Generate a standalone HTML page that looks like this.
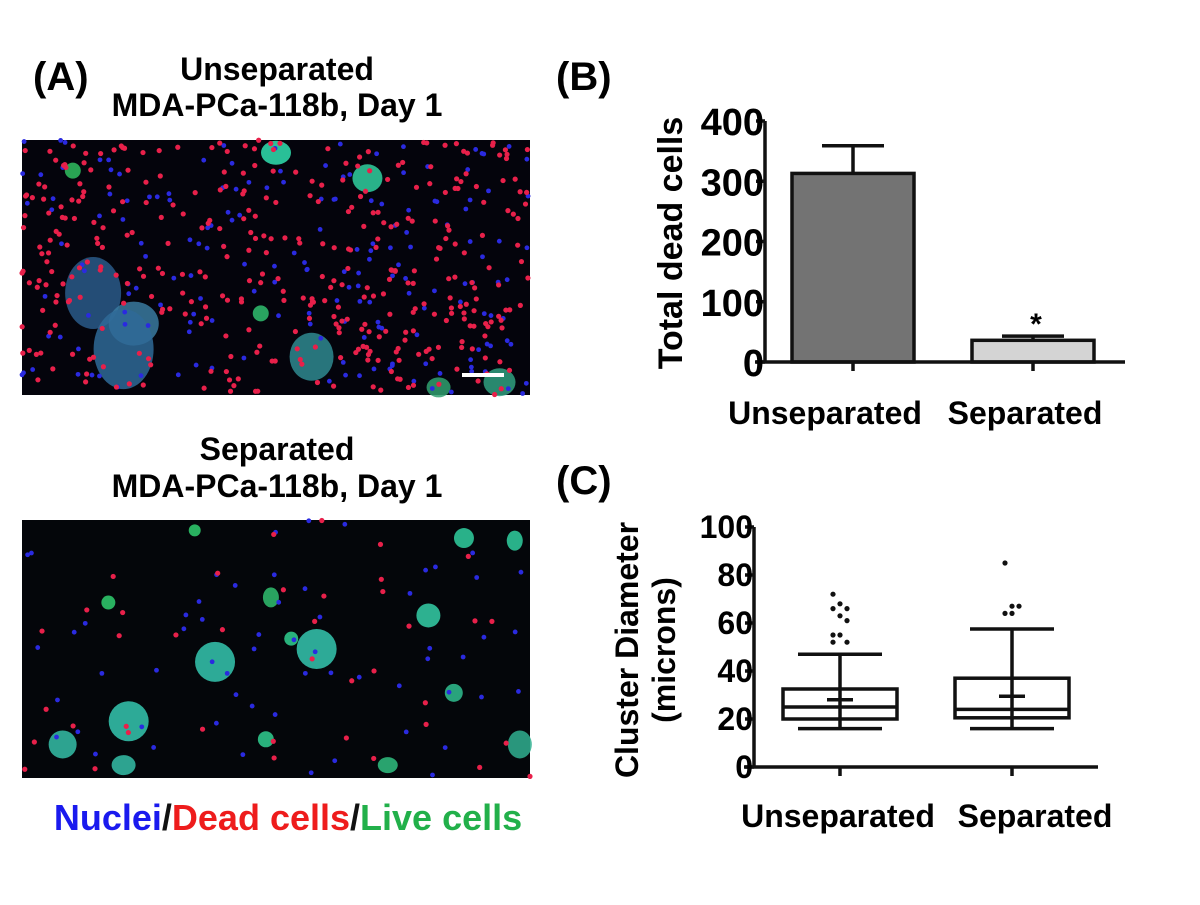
<!DOCTYPE html>
<html><head><meta charset="utf-8"><style>
body{margin:0;background:#fff;width:1200px;height:900px;overflow:hidden;font-family:"Liberation Sans",Arial,sans-serif}
svg text{font-family:"Liberation Sans",Arial,sans-serif;font-weight:bold}
</style></head><body>
<svg id="fig" width="1200" height="900" viewBox="0 0 1200 900">
<text x="33" y="90" font-size="40">(A)</text>
<text x="277" y="80" font-size="32" text-anchor="middle">Unseparated</text>
<text x="277" y="116" font-size="32" text-anchor="middle">MDA-PCa-118b, Day 1</text>
<g id="img1"><rect x="22" y="140" width="508" height="255" fill="#04040c"/></g>
<text x="277" y="460" font-size="32" text-anchor="middle">Separated</text>
<text x="277" y="497" font-size="32" text-anchor="middle">MDA-PCa-118b, Day 1</text>
<g id="img2"><rect x="22" y="520" width="508" height="258" fill="#04060a"/></g>
<text x="288" y="830" font-size="36" text-anchor="middle"><tspan fill="#1a1aee">Nuclei</tspan><tspan fill="#111">/</tspan><tspan fill="#ee1c1c">Dead cells</tspan><tspan fill="#111">/</tspan><tspan fill="#22b04a">Live cells</tspan></text>
<text x="556" y="90" font-size="40">(B)</text>
<text x="556" y="494" font-size="40">(C)</text>
<g id="chartB"></g>
<g id="chartC"></g>
</svg>
<script>
// Panel B data
const bCategories=["Unseparated","Separated"];
const bMeans=[313,36];
const bErrors=[46,7];
const bTicks=[0,100,200,300,400];
// Panel C data
const cCategories=["Unseparated","Separated"];
const cQ1=[20,20.5];
const cMedian=[25,24];
const cQ3=[32.5,37];
const cMean=[28,29.5];
const cLow=[16,16];
const cHigh=[47,57.5];
const cOutliers=[[72,68,66,66,63,61,55,55,52,52],[85,67,67,64,64]];
const cTicks=[0,20,40,60,80,100];

const NS="http://www.w3.org/2000/svg";
function mk(parent,tag,attrs){const e=document.createElementNS(NS,tag);for(const k in attrs)e.setAttribute(k,attrs[k]);parent.appendChild(e);return e;}

// decorative micrographs (seeded)
let seed=7;function rnd(){seed=(seed*16807)%2147483647;return seed/2147483647;}
function micro(g,x0,y0,w,h,nRed,nBlue,blobs){
  for(const b of blobs){mk(g,'ellipse',{cx:x0+b[0]*w,cy:y0+b[1]*h,rx:b[2],ry:b[3],fill:b[4],opacity:0.85});}
  for(let i=0;i<nBlue;i++)mk(g,'circle',{cx:x0+rnd()*w,cy:y0+rnd()*h,r:2.4,fill:'#2a2ae0'});
  for(let i=0;i<nRed;i++)mk(g,'circle',{cx:x0+rnd()*w,cy:y0+rnd()*h,r:2.6,fill:'#e8204a'});
}
const img1=document.getElementById('img1');
micro(img1,22,140,508,255,380,180,[[0.14,0.6,28,36,'#2a5a8a'],[0.22,0.72,25,22,'#3a7aa0'],[0.2,0.82,30,40,'#2f6a98'],[0.57,0.85,22,24,'#2f8a90'],[0.68,0.15,15,14,'#30d0a0'],[0.5,0.05,15,12,'#30e0b0'],[0.1,0.12,8,8,'#30c060'],[0.94,0.95,16,14,'#30a080'],[0.82,0.97,12,10,'#30a070'],[0.47,0.68,8,8,'#30c070']]);
mk(img1,'rect',{x:462,y:373,width:42,height:4,fill:'#fff'});
const img2=document.getElementById('img2');
micro(img2,22,520,508,258,40,60,[[0.38,0.55,20,20,'#35c8b0'],[0.58,0.5,20,20,'#35c8b0'],[0.21,0.78,20,20,'#35c8b0'],[0.8,0.37,12,12,'#35d0a8'],[0.08,0.87,14,14,'#35c0a8'],[0.2,0.95,12,10,'#35c0a8'],[0.48,0.85,8,8,'#30d090'],[0.53,0.46,7,7,'#30d090'],[0.85,0.67,9,9,'#30c090'],[0.87,0.07,10,10,'#30d0a0'],[0.97,0.08,8,10,'#30d0a0'],[0.17,0.32,7,7,'#30d070'],[0.34,0.04,6,6,'#30d070'],[0.49,0.3,8,10,'#30c070'],[0.98,0.87,12,14,'#30b090'],[0.72,0.95,10,8,'#30c080']]);

// Chart B
(function(){
  const g=document.getElementById('chartB');
  const X0=765,XR=1125,Y0=362,Y1=121;
  const y=v=>Y0-(v/400)*(Y0-Y1);
  const centers=[853,1033],bw=122;
  const fills=['#737373','#d4d4d4'];
  for(let i=0;i<bMeans.length;i++){
    const top=y(bMeans[i]),et=y(bMeans[i]+bErrors[i]);
    const ew=mk(g,'path',{d:`M${centers[i]} ${top}V${et}M${centers[i]-31} ${et}H${centers[i]+31}`,stroke:'#111','stroke-width':3.5,fill:'none'});
    
    
    const r=mk(g,'rect',{x:centers[i]-bw/2,y:top,width:bw,height:Y0-top,fill:fills[i],stroke:'#111','stroke-width':3.5});
    
    
    mk(g,'line',{x1:centers[i],x2:centers[i],y1:Y0,y2:Y0+9,stroke:'#111','stroke-width':3.5});
    const t=mk(g,'text',{x:centers[i]-14+(i?6:-14),y:424,'font-size':32,'text-anchor':'middle'});t.textContent=bCategories[i];
    
    
  }
  const star=mk(g,'text',{x:1036,y:334,'font-size':30,'text-anchor':'middle'});star.textContent='*';
  
  
  const ax=mk(g,'path',{d:`M${X0} ${Y1}V${Y0}M${X0-10} ${Y0}H${XR}`,stroke:'#111','stroke-width':3.5,fill:'none'});
  
  
  for(const v of bTicks){
    mk(g,'line',{x1:X0-9,x2:X0,y1:y(v),y2:y(v),stroke:'#111','stroke-width':3.5});
    const t=mk(g,'text',{x:X0-1,y:y(v)+14,'font-size':38,'text-anchor':'end'});t.textContent=v;
    
    
  }
  const yt=mk(g,'text',{x:682,y:243,'font-size':34,'text-anchor':'middle',transform:'rotate(-90 682 243)'});yt.textContent='Total dead cells';
  
  
})();

// Chart C
(function(){
  const g=document.getElementById('chartC');
  const X0=754,XR=1098,Y0=767,Y1=527;
  const y=v=>Y0-(v/100)*(Y0-Y1);
  const centers=[840,1012],bw=114,cap=42;
  for(let i=0;i<cCategories.length;i++){
    const c=centers[i];
    const w=mk(g,'path',{d:`M${c} ${y(cLow[i])}V${y(cHigh[i])}M${c-cap} ${y(cLow[i])}H${c+cap}M${c-cap} ${y(cHigh[i])}H${c+cap}`,stroke:'#111','stroke-width':3.5,fill:'none'});
    
    
    const b=mk(g,'rect',{x:c-bw/2,y:y(cQ3[i]),width:bw,height:y(cQ1[i])-y(cQ3[i]),fill:'#fff',stroke:'#111','stroke-width':3.5});
    
    
    const m=mk(g,'line',{x1:c-bw/2,x2:c+bw/2,y1:y(cMedian[i]),y2:y(cMedian[i]),stroke:'#111','stroke-width':3.5});
    
    
    const mn=mk(g,'path',{d:`M${c-13} ${y(cMean[i])}H${c+13}M${c} ${y(cQ1[i])}V${y(cQ3[i])}`,stroke:'#111','stroke-width':3.5,fill:'none'});
    
    
    cOutliers[i].forEach((v,j)=>{
      const dx=((j%3)-1)*7;
      const p=mk(g,'circle',{cx:c+dx,cy:y(v),r:2.6,fill:'#111'});
      
      
    });
    mk(g,'line',{x1:c,x2:c,y1:Y0,y2:Y0+9,stroke:'#111','stroke-width':3.5});
    const t=mk(g,'text',{x:c-2+(i?25:0),y:827,'font-size':32,'text-anchor':'middle'});t.textContent=cCategories[i];
    
    
  }
  const ax=mk(g,'path',{d:`M${X0} ${Y1}V${Y0}M${X0-10} ${Y0}H${XR}`,stroke:'#111','stroke-width':3.5,fill:'none'});
  
  
  for(const v of cTicks){
    mk(g,'line',{x1:X0-9,x2:X0,y1:y(v),y2:y(v),stroke:'#111','stroke-width':3.5});
    const t=mk(g,'text',{x:X0-1,y:y(v)+11,'font-size':32,'text-anchor':'end'});t.textContent=v;
    
    
  }
  const yt=mk(g,'text',{x:638,y:650,'font-size':32,'text-anchor':'middle',transform:'rotate(-90 638 650)'});yt.textContent='Cluster Diameter';
  
  
  const yt2=mk(g,'text',{x:675,y:650,'font-size':32,'text-anchor':'middle',transform:'rotate(-90 675 650)'});yt2.textContent='(microns)';
  
  
})();
</script>
</body></html>
